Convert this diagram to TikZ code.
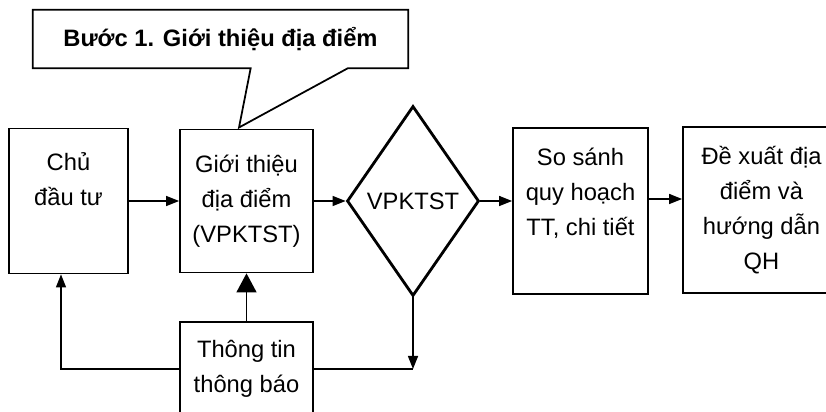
\documentclass[tikz,border=0pt]{standalone}
\usepackage{fontspec}
\setmainfont{Liberation Sans}
\usetikzlibrary{calc,arrows.meta,shapes.geometric}
\tikzset{>={Triangle[length=0.26cm,width=0.2cm]}}

\begin{document}
\begin{tikzpicture}[
    box/.style = {draw, line width=1pt, align=center, inner sep=0pt},
    txt/.style = {align=center, inner sep=0pt},
    link/.style = {line width=0.8pt},
    font = \fontsize{13.5}{19.8}\selectfont]
      \useasboundingbox (0,0) rectangle (16.52,-8.24);
      % callout with the step title
      \node[txt, font=\fontsize{13.5}{19.8}\selectfont\bfseries, minimum width=7.5cm, minimum height=1.16cm] (step1) at (4.41,-0.78) {Bước 1. Giới thiệu địa điểm};
      \coordinate (tip) at (4.78,-2.55);
      \draw[line width=1pt] (step1.north west) -- (step1.north east) -- (step1.south east)
            -- ($(step1.south west)+(6.3,0)$) -- (tip) -- ($(step1.south west)+(4.36,0)$)
            -- (step1.south west) -- cycle;
      % the boxes
      \node[box, minimum width=2.38cm, minimum height=2.9cm] (chu) at (1.37,-4.02) {};
      \node[txt] at (1.37,-3.59) {Chủ\\đầu tư};
      \node[box, minimum width=2.66cm, minimum height=2.86cm] (gioi) at (4.93,-4.02) {Giới thiệu\\địa điểm\\(VPKTST)};
      \node[draw, diamond, line width=1.6pt, inner sep=0pt, minimum width=2.64cm, minimum height=3.8cm] (vp) at (8.26,-4.02) {VPKTST};
      \node[box, minimum width=2.7cm, minimum height=3.32cm] (sosanh) at (11.61,-4.22) {};
      \node[txt] at (11.61,-3.86) {So sánh\\quy hoạch\\TT, chi tiết};
      \node[box, minimum width=3.34cm, minimum height=3.32cm] (dexuat) at (15.33,-4.2) {};
      \node[txt] at (15.23,-4.2) {Đề xuất địa\\điểm và\\hướng dẫn\\QH};
      \node[box, minimum width=2.66cm, minimum height=1.88cm] (thong) at (4.93,-7.38) {Thông tin\\thông báo};
      % connectors
      \coordinate (chuin) at ($(chu.south)+(-0.15,0)$);
      \coordinate (join) at (vp.south |- thong.east);
      \draw[link,->] (chu) -- (gioi);
      \draw[link,->] (gioi) -- (vp);
      \draw[link,->] (vp.east) -- (vp.east -| sosanh.west);
      \draw[link,->] ([yshift=0.24cm]sosanh.east) -- ([yshift=0.24cm]sosanh.east -| dexuat.west);
      \draw[link,-{Triangle[length=0.38cm,width=0.4cm]}] (thong) -- (gioi);
      \draw[link,->] (thong.west) -| (chuin);
      \draw[link] (thong.east) -- (join);
      \draw[link,->] (vp.south) -- (join);
    \end{tikzpicture}
\end{document}
